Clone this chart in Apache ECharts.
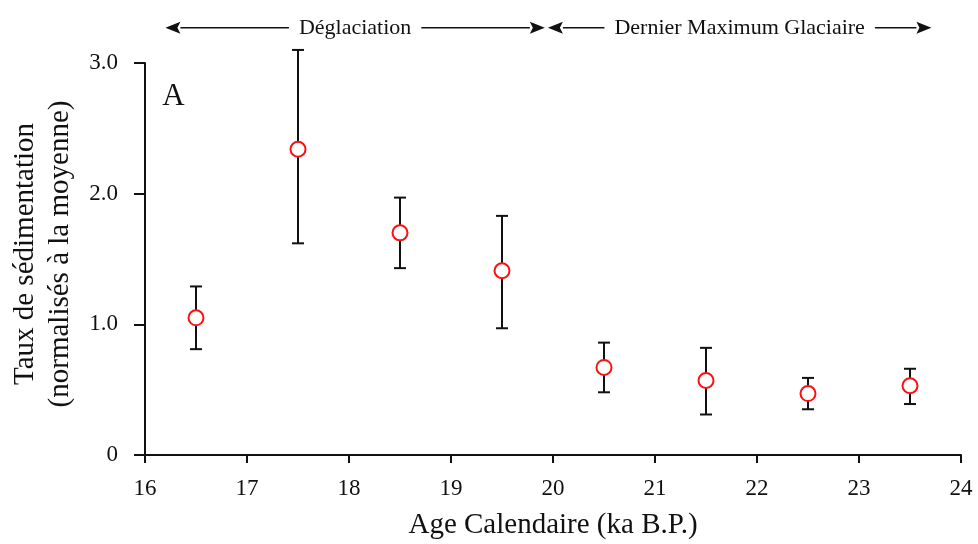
<!DOCTYPE html>
<html>
<head>
<meta charset="utf-8">
<script src="https://cdn.jsdelivr.net/npm/echarts@6/dist/echarts.min.js"></script>
<style>
  html, body { margin: 0; padding: 0; background: #fff; }
  #main { width: 978px; height: 544px; }
</style>
</head>
<body>
<div id="main"></div>
<script>
var ages = [16.5, 17.5, 18.5, 19.5, 20.5, 21.5, 22.5, 23.5];
var rates = [1.05, 2.34, 1.70, 1.41, 0.67, 0.57, 0.47, 0.53];
var lows = [0.81, 1.62, 1.43, 0.97, 0.48, 0.31, 0.35, 0.39];
var highs = [1.29, 3.10, 1.97, 1.83, 0.86, 0.82, 0.59, 0.66];
var xTicks = [16, 17, 18, 19, 20, 21, 22, 23, 24];
var yTicks = [0, 1, 2, 3];
// periods shown with arrows above the plot: [start, end, label]
var periods = [
  [16.2, 19.92, "Déglaciation"],
  [19.95, 23.71, "Dernier Maximum Glaciaire"]
];
var periodY = 3.27;

var font = "Liberation Serif";
var dom = document.getElementById("main");
var myChart = echarts.init(dom, null, { renderer: "canvas" });

var errData = ages.map(function (a, i) { return [a, lows[i], highs[i]]; });
var ptData = ages.map(function (a, i) { return [a, rates[i]]; });

var option = {
  animation: false,
  grid: { left: 145, right: 17, top: 63, bottom: 89, containLabel: false, outerBoundsMode: "none" },
  xAxis: {
    type: "value",
    min: 16,
    max: 24,
    interval: 1,
    name: "Age Calendaire (ka B.P.)",
    nameLocation: "middle",
    nameGap: 56,
    nameTextStyle: { fontFamily: font, fontSize: 29, color: "#111" },
    axisLine: { lineStyle: { color: "#111", width: 2 } },
    axisTick: { inside: false, length: 8, lineStyle: { color: "#111", width: 2 } },
    axisLabel: { fontFamily: font, fontSize: 23, color: "#111", margin: 22 },
    splitLine: { show: false }
  },
  yAxis: {
    type: "value",
    min: 0,
    max: 3,
    interval: 1,
    name: "Taux de sédimentation\n(normalisés à la moyenne)",
    nameLocation: "middle",
    nameGap: 57,
    nameRotate: 90,
    nameTextStyle: { fontFamily: font, fontSize: 29, color: "#111", lineHeight: 35, padding: [0, 0, 0, 10] },
    axisLine: { onZero: false, lineStyle: { color: "#111", width: 2 } },
    axisTick: { length: 11, lineStyle: { color: "#111", width: 2 } },
    axisLabel: {
      fontFamily: font, fontSize: 23, color: "#111", margin: 27,
      formatter: function (v) { return v === 0 ? "0" : v.toFixed(1); }
    },
    splitLine: { show: false }
  },
  series: [
    {
      type: "custom",
      data: errData,
      z: 2,
      renderItem: function (params, api) {
        var x = api.value(0);
        var lo = api.coord([x, api.value(1)]);
        var hi = api.coord([x, api.value(2)]);
        var w = 6;
        var st = { stroke: "#111", lineWidth: 2 };
        return {
          type: "group",
          children: [
            { type: "line", shape: { x1: hi[0], y1: hi[1], x2: lo[0], y2: lo[1] }, style: st },
            { type: "line", shape: { x1: hi[0] - w, y1: hi[1], x2: hi[0] + w, y2: hi[1] }, style: st },
            { type: "line", shape: { x1: lo[0] - w, y1: lo[1], x2: lo[0] + w, y2: lo[1] }, style: st }
          ]
        };
      }
    },
    {
      type: "scatter",
      data: ptData,
      z: 3,
      symbol: "circle",
      symbolSize: 15,
      itemStyle: { color: "#fff", borderColor: "#ff1010", borderWidth: 2, opacity: 1 }
    }
  ]
};

myChart.setOption(option);

// annotations: panel letter and period arrows, positioned through the axes
var graphics = [];
var pA = myChart.convertToPixel({ gridIndex: 0 }, [16.17, 2.74]);
graphics.push({
  type: "text", x: pA[0], y: pA[1],
  style: { text: "A", font: "31px " + font, fill: "#111", textAlign: "left", textVerticalAlign: "middle" }
});
periods.forEach(function (p) {
  var a = myChart.convertToPixel({ gridIndex: 0 }, [p[0], periodY]);
  var b = myChart.convertToPixel({ gridIndex: 0 }, [p[1], periodY]);
  var y = a[1];
  var head = 15, half = 6;
  graphics.push({ type: "line", shape: { x1: a[0] + head, y1: y, x2: b[0] - head, y2: y }, style: { stroke: "#111", lineWidth: 1.6 } });
  graphics.push({ type: "polygon", shape: { points: [[a[0], y], [a[0] + head, y - half], [a[0] + head - 3, y], [a[0] + head, y + half]] }, style: { fill: "#111" } });
  graphics.push({ type: "polygon", shape: { points: [[b[0], y], [b[0] - head, y - half], [b[0] - head + 3, y], [b[0] - head, y + half]] }, style: { fill: "#111" } });
  graphics.push({
    type: "text", x: (a[0] + b[0]) / 2, y: y, z: 10,
    style: {
      text: p[2], font: "22px " + font, fill: "#111",
      textAlign: "center", textVerticalAlign: "middle",
      backgroundColor: "#fff", padding: [0, 10]
    }
  });
});
myChart.setOption({ graphic: graphics });

window.addEventListener("resize", myChart.resize);
</script>
</body>
</html>
